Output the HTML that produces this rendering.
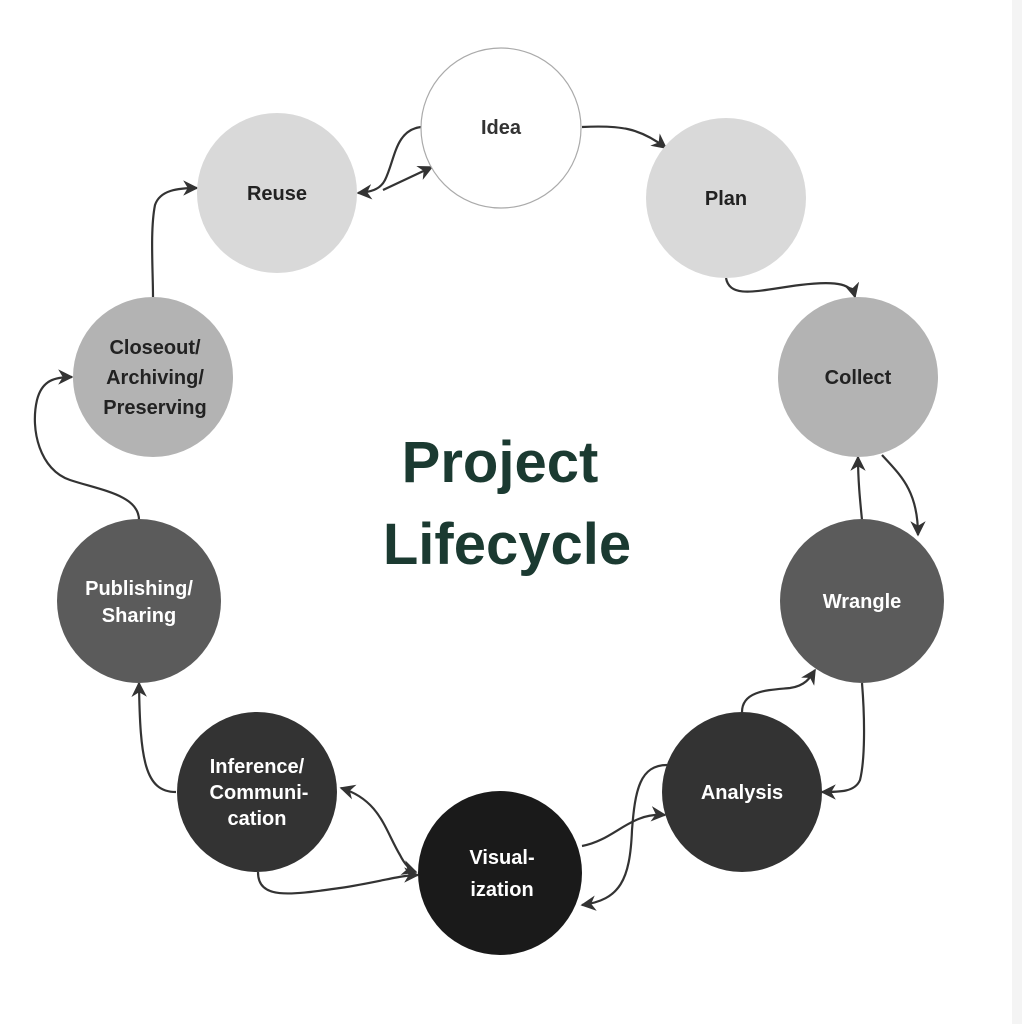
<!DOCTYPE html>
<html><head><meta charset="utf-8"><style>
html,body{margin:0;padding:0;background:#fff}
body{width:1022px;height:1024px;overflow:hidden;position:relative;font-family:"Liberation Sans",sans-serif}
.strip{position:absolute;left:1012px;top:0;width:10px;height:1024px;background:#f4f4f4}
</style></head><body>
<div class="strip"></div>
<svg width="1022" height="1024" viewBox="0 0 1022 1024" style="position:absolute;left:0;top:0">
<defs>
<marker id="a" viewBox="0 0 10 10" refX="9" refY="5" markerWidth="7" markerHeight="7" orient="auto-start-reverse">
<path d="M0,0 L10,5 L0,10 L3,5 Z" fill="#333"/></marker>
</defs>
<g fill="none" stroke="#333" stroke-width="2.2">
<path d="M582,127 C620,125 640,128 666,148" marker-end="url(#a)"/>
<path d="M421,127 C395,130 395,160 385,180 C380,190 370,192 358,193" marker-end="url(#a)"/>
<path d="M383,190 C400,182 415,175 432,167" marker-end="url(#a)"/>
<path d="M726,278 C730,300 760,290 800,285 C840,280 852,285 855,297" marker-end="url(#a)"/>
<path d="M882,455 C900,475 918,490 918,535" marker-end="url(#a)"/>
<path d="M862,520 C860,500 858,480 858,457" marker-end="url(#a)"/>
<path d="M862,683 C865,720 865,760 860,780 C855,792 840,792 822,792" marker-end="url(#a)"/>
<path d="M742,712 C742,690 770,690 790,688 C805,686 810,678 815,670" marker-end="url(#a)"/>
<path d="M667,765 C640,765 635,790 632,830 C630,880 620,900 582,905" marker-end="url(#a)"/>
<path d="M582,846 C615,840 630,812 665,815" marker-end="url(#a)"/>
<path d="M258,872 C258,900 290,895 340,888 C380,882 400,875 418,875" marker-end="url(#a)"/>
<path d="M341,788 C380,800 385,830 400,855 C405,865 410,870 416,872" marker-start="url(#a)" marker-end="url(#a)"/>
<path d="M176,792 C145,792 140,760 139,683" marker-end="url(#a)"/>
<path d="M139,520 C139,495 100,490 70,480 C40,470 30,430 37,400 C42,380 55,377 72,377" marker-end="url(#a)"/>
<path d="M153,297 C153,270 150,230 155,205 C160,190 178,188 197,188" marker-end="url(#a)"/>
</g>
<circle cx="501" cy="128" r="80" fill="#fff" stroke="#aaa" stroke-width="1.2"/>
<circle cx="277" cy="193" r="80" fill="#d9d9d9"/>
<circle cx="726" cy="198" r="80" fill="#d9d9d9"/>
<circle cx="858" cy="377" r="80" fill="#b3b3b3"/>
<circle cx="153" cy="377" r="80" fill="#b3b3b3"/>
<circle cx="139" cy="601" r="82" fill="#5b5b5b"/>
<circle cx="862" cy="601" r="82" fill="#5b5b5b"/>
<circle cx="257" cy="792" r="80" fill="#333"/>
<circle cx="742" cy="792" r="80" fill="#333"/>
<circle cx="500" cy="873" r="82" fill="#1a1a1a"/>
<g font-family="Liberation Sans, sans-serif" font-weight="bold" font-size="20" text-anchor="middle">
<text x="501" y="134" fill="#333">Idea</text>
<text x="277" y="200" fill="#222">Reuse</text>
<text x="726" y="205" fill="#222">Plan</text>
<text x="858" y="384" fill="#222">Collect</text>
<text x="155" y="354" fill="#222">Closeout/</text>
<text x="155" y="384" fill="#222">Archiving/</text>
<text x="155" y="414" fill="#222">Preserving</text>
<text x="139" y="595" fill="#fff">Publishing/</text>
<text x="139" y="622" fill="#fff">Sharing</text>
<text x="862" y="608" fill="#fff">Wrangle</text>
<text x="257" y="773" fill="#fff">Inference/</text>
<text x="259" y="799" fill="#fff">Communi-</text>
<text x="257" y="825" fill="#fff">cation</text>
<text x="742" y="799" fill="#fff">Analysis</text>
<text x="502" y="864" fill="#fff">Visual-</text>
<text x="502" y="896" fill="#fff">ization</text>
</g>
<g font-family="Liberation Sans, sans-serif" font-weight="bold" font-size="58" fill="#1b3a31" text-anchor="middle">
<text x="500" y="482">Project</text>
<text x="507" y="564">Lifecycle</text>
</g>
</svg>
</body></html>
